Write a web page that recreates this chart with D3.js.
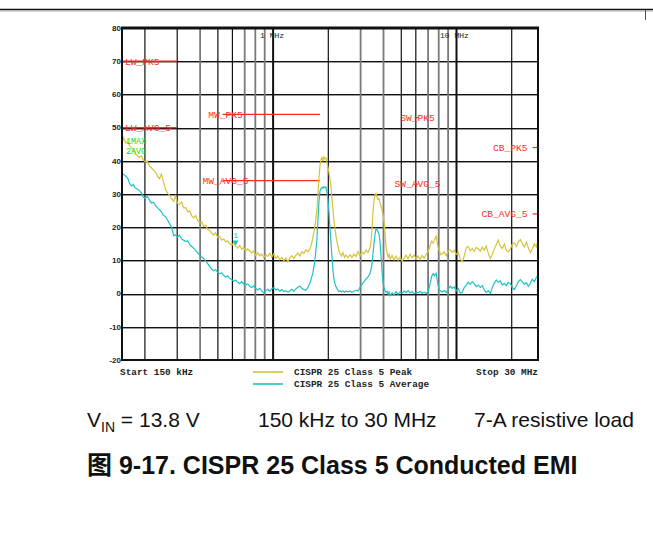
<!DOCTYPE html>
<html>
<head>
<meta charset="utf-8">
<script src="https://cdn.jsdelivr.net/npm/d3@7"></script>
<style>
	body { margin: 0; background: #fff; }
	svg { display: block; }
</style>
</head>
<body>
<svg id="chart" width="653" height="539"></svg>
<script>
/* measured traces, [frequency in MHz, level in dBuV] */
const peakTrace = [
	[0.150, 45.2], [0.153, 46.9], [0.157, 45.4], [0.161, 45.9], [0.165, 44.6], [0.169, 43.9],
	[0.173, 43.4], [0.177, 42.1], [0.182, 41.6], [0.186, 41.0], [0.191, 41.5], [0.196, 40.2],
	[0.201, 39.6], [0.206, 39.9], [0.212, 38.4], [0.217, 37.9], [0.223, 37.2], [0.229, 36.5],
	[0.234, 35.3], [0.240, 34.6], [0.246, 36.0], [0.252, 33.8], [0.259, 31.4], [0.266, 30.2],
	[0.273, 29.6], [0.280, 28.5], [0.287, 27.8], [0.294, 29.4], [0.301, 27.2], [0.309, 26.9],
	[0.317, 27.6], [0.325, 25.8], [0.334, 25.9], [0.342, 24.6], [0.351, 24.9], [0.360, 23.4],
	[0.369, 22.8], [0.378, 23.5], [0.388, 22.0], [0.398, 21.4], [0.408, 21.7], [0.418, 20.2],
	[0.429, 20.6], [0.440, 19.3], [0.451, 19.0], [0.462, 18.2], [0.474, 17.6], [0.486, 18.3],
	[0.499, 16.9], [0.511, 17.2], [0.524, 16.1], [0.538, 16.5], [0.551, 15.6], [0.565, 15.9],
	[0.580, 15.0], [0.595, 14.6], [0.610, 15.3], [0.625, 14.2], [0.641, 13.7], [0.657, 14.5],
	[0.674, 13.4], [0.691, 13.9], [0.709, 12.8], [0.727, 13.5], [0.746, 12.9], [0.765, 12.2],
	[0.784, 12.8], [0.804, 11.6], [0.825, 12.3], [0.846, 11.4], [0.867, 11.9], [0.890, 10.9],
	[0.912, 11.8], [0.936, 11.2], [0.959, 12.1], [0.984, 11.0], [1.009, 12.0], [1.035, 10.6],
	[1.061, 11.3], [1.088, 10.2], [1.116, 10.9], [1.144, 9.9], [1.173, 10.7], [1.203, 9.6],
	[1.234, 10.8], [1.265, 11.4], [1.297, 10.6], [1.330, 11.5], [1.365, 12.2], [1.400, 11.3],
	[1.435, 12.6], [1.472, 12.1], [1.509, 13.2], [1.548, 12.6], [1.587, 13.5], [1.617, 14.8],
	[1.648, 16.9], [1.680, 19.2], [1.712, 22.6], [1.734, 25.4], [1.755, 29.8], [1.777, 34.6],
	[1.800, 38.3], [1.822, 40.3], [1.845, 41.0], [1.868, 39.8], [1.892, 41.2], [1.916, 40.6],
	[1.941, 40.9], [1.965, 39.6], [1.990, 38.2], [2.016, 36.5], [2.041, 34.4], [2.068, 32.1],
	[2.094, 28.6], [2.121, 25.3], [2.147, 22.0], [2.174, 19.6], [2.201, 17.4], [2.230, 15.6],
	[2.258, 14.3], [2.286, 12.8], [2.315, 12.1], [2.359, 11.3], [2.404, 12.4], [2.450, 10.9],
	[2.496, 11.6], [2.560, 10.8], [2.625, 11.7], [2.692, 10.9], [2.761, 11.9], [2.831, 11.2],
	[2.903, 12.6], [2.977, 11.4], [3.053, 12.5], [3.131, 12.0], [3.211, 13.1], [3.293, 12.4],
	[3.377, 13.8], [3.420, 15.6], [3.463, 19.4], [3.506, 24.6], [3.550, 28.1], [3.595, 29.9],
	[3.641, 30.2], [3.687, 29.0], [3.733, 28.3], [3.781, 28.6], [3.830, 27.2], [3.878, 26.3],
	[3.927, 25.1], [3.977, 23.9], [4.027, 21.5], [4.078, 18.2], [4.129, 13.8], [4.182, 12.1],
	[4.235, 11.0], [4.289, 11.8], [4.343, 10.4], [4.454, 11.5], [4.566, 10.2], [4.683, 11.3],
	[4.801, 10.0], [4.924, 10.9], [5.050, 9.8], [5.178, 10.7], [5.310, 11.6], [5.446, 10.5],
	[5.585, 11.9], [5.727, 10.8], [5.873, 11.6], [6.023, 10.4], [6.175, 11.3], [6.333, 10.2],
	[6.494, 11.5], [6.659, 10.6], [6.829, 11.8], [7.003, 12.6], [7.182, 14.5], [7.319, 15.8],
	[7.458, 15.2], [7.600, 16.4], [7.745, 17.3], [7.893, 14.6], [8.043, 13.0], [8.196, 11.7],
	[8.352, 11.9], [8.565, 12.6], [8.783, 11.4], [9.007, 12.8], [9.239, 13.2], [9.475, 12.4],
	[9.714, 13.0], [9.960, 11.8], [10.22, 12.5], [10.48, 10.4], [10.74, 9.6], [11.02, 11.2],
	[11.30, 13.8], [11.58, 14.2], [11.88, 12.9], [12.18, 13.6], [12.50, 12.7], [12.81, 13.9],
	[13.14, 13.5], [13.48, 12.8], [13.82, 14.0], [14.17, 13.1], [14.53, 14.3], [14.90, 12.2],
	[15.28, 10.6], [15.67, 11.8], [16.07, 13.4], [16.48, 14.8], [16.90, 16.1], [17.33, 14.3],
	[17.77, 13.6], [18.22, 14.9], [18.69, 13.1], [19.16, 12.6], [19.65, 13.4], [20.15, 14.9],
	[20.67, 15.3], [21.19, 14.2], [21.73, 15.6], [22.29, 16.3], [22.86, 15.1], [23.44, 14.0],
	[24.03, 15.5], [24.64, 13.8], [25.27, 12.3], [25.91, 13.5], [26.58, 15.0], [27.25, 14.1],
	[27.95, 16.6]
];

const avgTrace = [
	[0.150, 36.3], [0.153, 35.9], [0.157, 35.4], [0.161, 34.8], [0.165, 33.2], [0.169, 32.4],
	[0.173, 32.9], [0.177, 31.8], [0.182, 31.5], [0.186, 31.1], [0.191, 30.4], [0.196, 29.0],
	[0.201, 28.7], [0.206, 29.3], [0.212, 28.1], [0.217, 27.3], [0.223, 27.5], [0.229, 26.4],
	[0.234, 25.9], [0.240, 25.3], [0.246, 24.6], [0.252, 23.6], [0.259, 23.2], [0.266, 22.1],
	[0.273, 21.0], [0.280, 19.9], [0.287, 17.4], [0.294, 17.7], [0.301, 17.1], [0.309, 17.6],
	[0.317, 16.4], [0.325, 16.1], [0.334, 15.7], [0.342, 15.9], [0.351, 14.8], [0.360, 14.2],
	[0.369, 13.6], [0.378, 13.0], [0.388, 12.3], [0.398, 11.6], [0.408, 11.0], [0.418, 10.6],
	[0.429, 9.8], [0.440, 9.0], [0.451, 8.2], [0.462, 7.4], [0.474, 6.9], [0.486, 7.2],
	[0.499, 6.4], [0.511, 6.0], [0.524, 6.2], [0.538, 5.5], [0.551, 5.0], [0.565, 5.3],
	[0.580, 4.6], [0.595, 4.2], [0.610, 3.7], [0.625, 4.1], [0.641, 3.4], [0.657, 3.0],
	[0.674, 3.6], [0.691, 2.9], [0.709, 2.6], [0.727, 2.9], [0.746, 2.2], [0.765, 1.8],
	[0.784, 2.3], [0.804, 1.5], [0.825, 1.1], [0.846, 1.6], [0.867, 0.8], [0.890, 0.2],
	[0.912, 0.9], [0.936, 1.3], [0.959, 0.7], [0.984, 1.5], [1.009, 1.8], [1.035, 1.1],
	[1.061, 1.4], [1.088, 0.7], [1.116, 1.2], [1.144, 0.6], [1.173, 0.9], [1.203, 0.5],
	[1.234, 0.8], [1.265, 1.3], [1.297, 0.7], [1.330, 1.4], [1.365, 1.9], [1.400, 2.3],
	[1.435, 1.6], [1.472, 1.2], [1.509, 1.0], [1.548, 1.9], [1.587, 3.2], [1.617, 4.6],
	[1.648, 6.3], [1.680, 9.0], [1.712, 13.0], [1.734, 16.6], [1.755, 21.8], [1.777, 27.4],
	[1.800, 30.8], [1.822, 31.6], [1.845, 32.0], [1.868, 31.7], [1.892, 32.2], [1.916, 31.9],
	[1.941, 32.1], [1.965, 30.5], [1.990, 28.4], [2.016, 24.6], [2.041, 19.8], [2.068, 15.1],
	[2.094, 11.2], [2.121, 7.1], [2.147, 4.3], [2.174, 3.0], [2.201, 2.1], [2.230, 1.5],
	[2.258, 1.0], [2.286, 0.6], [2.315, 0.9], [2.359, 0.5], [2.404, 0.8], [2.450, 0.4],
	[2.496, 0.7], [2.560, 0.5], [2.625, 0.8], [2.692, 0.4], [2.761, 0.7], [2.831, 1.0],
	[2.903, 0.8], [2.977, 1.9], [3.053, 2.8], [3.131, 3.6], [3.211, 4.4], [3.293, 5.0],
	[3.377, 6.1], [3.420, 7.2], [3.463, 9.0], [3.506, 12.1], [3.550, 15.2], [3.595, 17.8],
	[3.641, 19.6], [3.687, 19.2], [3.733, 18.6], [3.781, 18.0], [3.830, 15.3], [3.878, 11.4],
	[3.927, 6.6], [3.977, 3.3], [4.027, 1.6], [4.078, 0.9], [4.129, 0.4], [4.182, 0.7],
	[4.235, -0.3], [4.289, 0.5], [4.343, -0.6], [4.454, 0.2], [4.566, -0.4], [4.683, 0.6],
	[4.801, -0.2], [4.924, 0.5], [5.050, 0.1], [5.178, 0.8], [5.310, 0.3], [5.446, 0.9],
	[5.585, 0.2], [5.727, 0.6], [5.873, -0.1], [6.023, 0.4], [6.175, 0.2], [6.333, 0.7],
	[6.494, 0.1], [6.659, 0.4], [6.829, 0.0], [7.003, 0.6], [7.182, 3.0], [7.319, 5.2],
	[7.458, 6.0], [7.600, 5.4], [7.745, 6.1], [7.893, 3.2], [8.043, 1.2], [8.196, 0.8],
	[8.352, 0.5], [8.565, 0.9], [8.783, 0.4], [9.007, 1.3], [9.239, 2.2], [9.475, 1.6],
	[9.714, 2.0], [9.960, 0.8], [10.22, 1.5], [10.48, 0.1], [10.74, 0.4], [11.02, 1.8],
	[11.30, 2.5], [11.58, 3.4], [11.88, 2.8], [12.18, 3.6], [12.50, 2.9], [12.81, 2.1],
	[13.14, 2.6], [13.48, 1.9], [13.82, 2.4], [14.17, 1.1], [14.53, 0.3], [14.90, 0.9],
	[15.28, 0.1], [15.67, 1.8], [16.07, 3.2], [16.48, 4.1], [16.90, 3.4], [17.33, 3.8],
	[17.77, 2.6], [18.22, 3.1], [18.69, 2.4], [19.16, 3.4], [19.65, 3.0], [20.15, 1.9],
	[20.67, 1.2], [21.19, 2.3], [21.73, 3.6], [22.29, 4.2], [22.86, 3.5], [23.44, 2.8],
	[24.03, 3.3], [24.64, 2.2], [25.27, 3.1], [25.91, 4.3], [26.58, 3.6], [27.25, 4.9],
	[27.95, 5.6]
];

/* CISPR 25 class 5 limit segments */
const limitNames = ["LW_PK5", "LW_AVG_5", "MW_PK5", "MW_AVG_5", "SW_PK5", "SW_AVG_5", "CB_PK5", "CB_AVG_5"];
const limitStart = [0.15, 0.15, 0.53, 0.53, 5.9, 5.9, 26, 26];
const limitStop = [0.3, 0.3, 1.8, 1.8, 6.2, 6.2, 28, 28];
const limitLevel = [70, 50, 54, 34, 53, 33, 44, 24];

/* axis ticks and labels */
const yTicks = [80, 70, 60, 50, 40, 30, 20, 10, 0, -10, -20];
const freqGrid = [0.2, 0.3, 0.4, 0.5, 0.6, 0.7, 0.8, 0.9, 1, 2, 3, 4, 5, 6, 7, 8, 9, 10, 20];
const freqLabels = [[1, "1 MHz"], [10, "10 MHz"]];
const startLabel = "Start 150 kHz";
const stopLabel = "Stop 30 MHz";
const seriesNames = ["CISPR 25 Class 5 Peak", "CISPR 25 Class 5 Average"];
const traceTags = ["1MAX", "2AVG"];
const markerFreq = 0.625;

const svg = d3.select("#chart");
const plotL = 122, plotR = 538, plotT = 28, plotB = 360;

const x = d3.scaleLog().domain([0.15, 30]).range([plotL, 544]);
const y = d3.scaleLinear().domain([-20, 80]).range([plotB, plotT]);

const peakColor = "#d6c339";
const avgColor = "#1fc2c6";
const red = "#ff2a2a";
const mono = "'Liberation Mono', 'DejaVu Sans Mono', monospace";
const sans = "Arial, 'Liberation Sans', sans-serif";

// page rule at the top, with its little end tick on the right
svg.append("line").attr("x1", 0).attr("x2", 653).attr("y1", 9.5).attr("y2", 9.5)
	.attr("stroke", "#111").attr("stroke-width", 1.5);
svg.append("line").attr("x1", 0).attr("x2", 653).attr("y1", 11).attr("y2", 11)
	.attr("stroke", "#aaa").attr("stroke-width", 1);
svg.append("line").attr("x1", 645.5).attr("x2", 645.5).attr("y1", 10).attr("y2", 20)
	.attr("stroke", "#555").attr("stroke-width", 1);

// horizontal grid: dark line with a grey shadow
const grid = svg.append("g");
yTicks.filter(d => d > -20 && d < 80).forEach(d => {
	grid.append("line").attr("x1", plotL).attr("x2", plotR)
		.attr("y1", Math.round(y(d)) + 0.5).attr("y2", Math.round(y(d)) + 0.5)
		.attr("stroke", "#111").attr("stroke-width", 1);
	grid.append("line").attr("x1", plotL).attr("x2", plotR)
		.attr("y1", Math.round(y(d)) + 1.5).attr("y2", Math.round(y(d)) + 1.5)
		.attr("stroke", "#999").attr("stroke-width", 1);
});

// vertical grid, the resampled original mixes black and grey lines
const greyLines = [0.4, 0.7, 0.8, 0.9, 3, 4, 7, 8, 9];
freqGrid.forEach(f => {
	const grey = greyLines.includes(f);
	const heavy = f === 1 || f === 10;
	grid.append("line")
		.attr("x1", x(f)).attr("x2", x(f)).attr("y1", plotT).attr("y2", plotB)
		.attr("stroke", grey ? "#7a7a7a" : "#111")
		.attr("stroke-width", heavy ? 2 : (grey ? 1.8 : 1.2));
});

// y tick labels
svg.append("g").selectAll("text").data(yTicks).join("text")
	.attr("x", 121).attr("y", d => y(d)).attr("dy", "0.35em")
	.attr("text-anchor", "end")
	.attr("font-family", sans).attr("font-size", 8).attr("font-weight", "bold")
	.attr("fill", "#222")
	.text(d => d);

// decade labels along the top
svg.append("g").selectAll("text").data(freqLabels).join("text")
	.attr("x", d => x(d[0]) - (d[0] === 1 ? 13 : 16.5)).attr("y", 38)
	.attr("font-family", mono).attr("font-size", 8).attr("fill", "#222")
	.text(d => d[1]);

// limit lines
const labelPlace = {
	LW: (i) => [x(limitStart[i]) + 3, "start"],
	MW: (i) => [x(limitStart[i]) + 3, "middle"],
	SW: (i) => [x(limitStop[i]) - 1, "middle"],
	CB: (i) => [x(limitStart[i]) - 5, "end"]
};
const limits = svg.append("g");
limitNames.forEach((name, i) => {
	limits.append("line")
		.attr("x1", x(limitStart[i])).attr("x2", Math.min(x(limitStop[i]), plotR))
		.attr("y1", y(limitLevel[i])).attr("y2", y(limitLevel[i]))
		.attr("stroke", red).attr("stroke-width", 1.2);
	const [lx, anchor] = labelPlace[name.slice(0, 2)](i);
	limits.append("text")
		.attr("x", lx).attr("y", y(limitLevel[i])).attr("dy", "0.35em")
		.attr("text-anchor", anchor)
		.attr("font-family", mono).attr("font-size", 9.6).attr("fill", red)
		.text(name);
});

// traces
svg.append("clipPath").attr("id", "plotClip").append("rect")
	.attr("x", plotL).attr("y", plotT).attr("width", plotR - plotL).attr("height", plotB - plotT);

const line = d3.line().x(d => x(d[0])).y(d => y(d[1]));
const traces = svg.append("g").attr("clip-path", "url(#plotClip)");
traces.append("path").datum(avgTrace)
	.attr("fill", "none").attr("stroke", avgColor).attr("stroke-width", 1.2)
	.attr("d", line);
traces.append("path").datum(peakTrace)
	.attr("fill", "none").attr("stroke", peakColor).attr("stroke-width", 1.2)
	.attr("d", line);

// trace tags in the upper-left corner
svg.append("g").selectAll("text").data(traceTags).join("text")
	.attr("x", 126).attr("y", (d, i) => 141 + i * 10.5).attr("dy", "0.35em")
	.attr("font-family", mono).attr("font-size", 8.4).attr("fill", "#11dd11")
	.text(d => d);

// marker 1 sitting on the peak trace
const markerLevel = peakTrace.find(d => d[0] === markerFreq)[1];
const mx = x(markerFreq), my = y(markerLevel);
svg.append("path")
	.attr("d", `M${mx - 3},${my - 6}L${mx + 3},${my - 6}L${mx},${my - 1}Z`)
	.attr("fill", avgColor);
svg.append("text").attr("x", mx).attr("y", my - 8).attr("text-anchor", "middle")
	.attr("font-family", mono).attr("font-size", 8).attr("fill", avgColor)
	.text("1");

// frame
svg.append("rect").attr("x", plotL).attr("y", plotT).attr("width", plotR - plotL).attr("height", plotB - plotT)
	.attr("fill", "none").attr("stroke", "#111").attr("stroke-width", 2);
svg.append("line").attr("x1", plotL - 1).attr("x2", plotR + 1).attr("y1", plotT).attr("y2", plotT)
	.attr("stroke", "#111").attr("stroke-width", 3);

// footer: start/stop and legend
const foot = svg.append("g").attr("font-family", mono).attr("font-size", 9.4)
	.attr("font-weight", "bold").attr("fill", "#222");
foot.append("text").attr("x", plotL - 2).attr("y", 375).text(startLabel);
foot.append("text").attr("x", plotR).attr("y", 375).attr("text-anchor", "end").text(stopLabel);
[peakColor, avgColor].forEach((c, i) => {
	svg.append("line").attr("x1", 253).attr("x2", 283)
		.attr("y1", 372 + i * 12).attr("y2", 372 + i * 12)
		.attr("stroke", c).attr("stroke-width", 1.6);
	foot.append("text").attr("x", 294).attr("y", 375 + i * 12).text(seriesNames[i]);
});

// caption under the chart
const cap = svg.append("g").attr("font-family", sans).attr("font-size", 21).attr("fill", "#111");
const vin = cap.append("text").attr("x", 87).attr("y", 427);
vin.append("tspan").text("V");
vin.append("tspan").attr("font-size", 14).attr("dy", 5).text("IN");
vin.append("tspan").attr("dy", -5).text(" = 13.8 V");
cap.append("text").attr("x", 258).attr("y", 427).text("150 kHz to 30 MHz");
cap.append("text").attr("x", 474).attr("y", 427).text("7-A resistive load");

svg.append("text").attr("x", 87).attr("y", 474)
	.attr("font-family", "Arial, 'Liberation Sans', 'Noto Sans CJK SC', sans-serif")
	.attr("font-size", 25).attr("font-weight", "bold").attr("fill", "#111")
	.text("图 9-17. CISPR 25 Class 5 Conducted EMI");
</script>
</body>
</html>
